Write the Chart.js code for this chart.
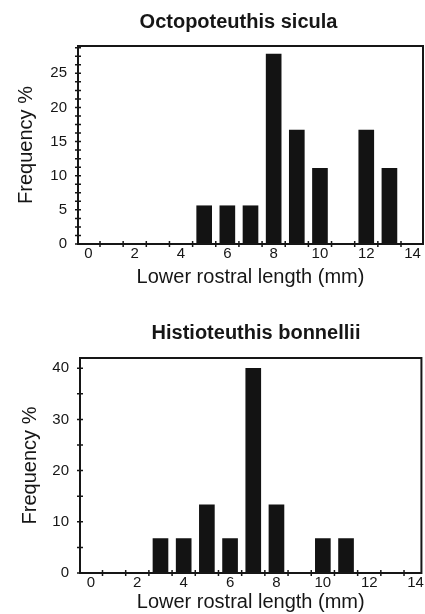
<!DOCTYPE html>
<html>
<head>
<meta charset="utf-8">
<script src="https://cdn.jsdelivr.net/npm/chart.js@4/dist/chart.umd.min.js"></script>
<style>
  html, body { margin: 0; padding: 0; background: #fff; }
  body { width: 425px; height: 614px; position: relative; overflow: hidden; font-family: 'Liberation Sans', Arial, sans-serif; }
  .title { position: absolute; left: 0; z-index: 2; font-weight: bold; font-size: 20px; line-height: 24px; text-align: center; color: #161616; white-space: nowrap; }
  canvas { position: absolute; left: 0; }
</style>
</head>
<body>
<div class="title" style="top:9px;width:477px">Octopoteuthis sicula</div>
<canvas id="octoChart" width="425" height="300" style="top:0"></canvas>
<div class="title" style="top:320px;width:512px">Histioteuthis bonnellii</div>
<canvas id="histioChart" width="425" height="314" style="top:300px"></canvas>

<script>
// lower rostral length classes (mm) and frequency (%)
const octoLengths = [5, 6, 7, 8, 9, 10, 11, 12, 13];
const octoFreq = [5.6, 5.6, 5.6, 27.8, 16.7, 11.1, 0, 16.7, 11.1];

const histioLengths = [3, 4, 5, 6, 7, 8, 9, 10, 11];
const histioFreq = [6.7, 6.7, 13.3, 6.7, 40, 13.3, 0, 6.7, 6.7];

const xTickLabels = [0, 2, 4, 6, 8, 10, 12, 14];
const octoYTicks = [0, 5, 10, 15, 20, 25];
const histioYTicks = [0, 10, 20, 30, 40];

const ink = '#161616';
const fontFamily = "'Liberation Sans', Arial, sans-serif";

// frame round the plot plus small crossing tick marks
const frameTicks = {
  id: 'frameTicks',
  afterDraw(chart, args, opts) {
    const { ctx, chartArea: a, scales: { x, y } } = chart;
    ctx.save();
    ctx.strokeStyle = ink;
    ctx.lineWidth = 2;
    ctx.strokeRect(a.left, a.top, a.right - a.left, a.bottom - a.top);
    ctx.lineWidth = 1.5;
    ctx.beginPath();
    for (let v = 0.5; v <= x.max; v += 1) {
      const px = x.getPixelForValue(v);
      ctx.moveTo(px, a.bottom - 3);
      ctx.lineTo(px, a.bottom + 3);
    }
    for (let v = 0; v <= y.max; v += opts.yMinor) {
      const py = y.getPixelForValue(v);
      ctx.moveTo(a.left - 3, py);
      ctx.lineTo(a.left + 3, py);
    }
    ctx.stroke();
    ctx.restore();
  }
};

function makeHistogram(id, lengths, freqs, yTicks, g) {
  const canvas = document.getElementById(id);
  return new Chart(canvas, {
    type: 'bar',
    data: {
      datasets: [{
        data: lengths.map((x, i) => ({ x: x, y: freqs[i] })),
        backgroundColor: '#131313',
        borderWidth: 0,
        barThickness: 15
      }]
    },
    options: {
      responsive: false,
      animation: false,
      layout: { padding: { top: g.top, right: canvas.width - g.right, left: 0, bottom: 0 } },
      scales: {
        x: {
          type: 'linear',
          offset: false,
          min: g.xMin,
          max: g.xMax,
          afterFit: (s) => { s.height = canvas.height - g.bottom; },
          afterBuildTicks: (s) => { s.ticks = xTickLabels.map(v => ({ value: v })); },
          grid: { display: false, drawTicks: false, offset: false },
          border: { display: false },
          ticks: { color: ink, font: { family: fontFamily, size: 15 }, padding: 1, maxRotation: 0, autoSkip: false },
          title: {
            display: true,
            text: 'Lower rostral length (mm)',
            color: ink,
            font: { family: fontFamily, size: 20 },
            padding: { top: 0, bottom: g.xTitlePad }
          }
        },
        y: {
          min: 0,
          max: g.yMax,
          afterFit: (s) => { s.width = g.left; },
          afterBuildTicks: (s) => { s.ticks = yTicks.map(v => ({ value: v })); },
          grid: { display: false, drawTicks: false },
          border: { display: false },
          ticks: { color: ink, font: { family: fontFamily, size: 15 }, padding: 11 },
          title: {
            display: true,
            text: 'Frequency %',
            color: ink,
            font: { family: fontFamily, size: 20 },
            padding: { top: g.yTitlePad, bottom: 0 }
          }
        }
      },
      plugins: {
        legend: { display: false },
        tooltip: { enabled: false },
        frameTicks: { yMinor: g.yMinor }
      }
    },
    plugins: [frameTicks]
  });
}

makeHistogram('octoChart', octoLengths, octoFreq, octoYTicks, {
  left: 78, right: 423, top: 46, bottom: 244,
  xMin: -0.45, xMax: 14.45, yMax: 29, yMinor: 1.25,
  xTitlePad: 11, yTitlePad: 14
});

makeHistogram('histioChart', histioLengths, histioFreq, histioYTicks, {
  left: 80, right: 423, top: 58, bottom: 273,
  xMin: -0.47, xMax: 14.25, yMax: 42, yMinor: 5,
  xTitlePad: 0, yTitlePad: 18
});
</script>
</body>
</html>
